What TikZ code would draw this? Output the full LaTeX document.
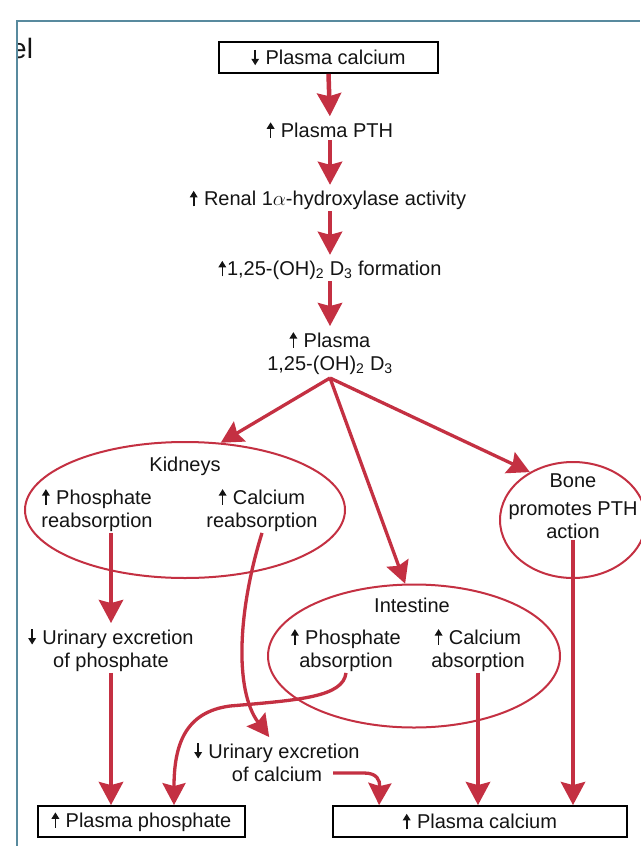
\documentclass[tikz,border=0pt]{standalone}
\usepackage{fontspec}
\setmainfont{Liberation Sans}
\usetikzlibrary{arrows.meta,calc,shapes.geometric}
\definecolor{arrred}{RGB}{196,48,66}
\definecolor{framec}{RGB}{88,138,158}
\definecolor{txt}{RGB}{20,20,20}
\newcommand\uarr{\tikz[baseline=0pt,x=1pt,y=1pt]\draw[txt,line width=1.6pt,-{Triangle[length=6.5pt,width=7.5pt]}] (0,-0.5) -- (0,15);\hspace{1pt}}
\newcommand\darr{\tikz[baseline=0pt,x=1pt,y=1pt]\draw[txt,line width=1.6pt,-{Triangle[length=6.5pt,width=7.5pt]}] (0,15) -- (0,-0.5);\hspace{1pt}}
\begin{document}
\begin{tikzpicture}[x=1pt,y=-1pt,
  lbl/.style={font=\fontsize{20}{23.5}\selectfont, text=txt, align=center, inner sep=1pt},
  boxn/.style={lbl, draw=black, line width=1.8pt, minimum height=31pt, inner sep=0pt},
  organ/.style={ellipse, draw=arrred, line width=2pt, inner sep=0pt},
  bigarr/.style={draw=arrred, line width=4.5pt, shorten >=4pt, -{Stealth[length=23pt,width=24pt,inset=3pt]}},
  diagarr/.style={draw=arrred, line width=3.3pt, -{Stealth[length=22pt,width=23pt,inset=3pt]}},
]
\useasboundingbox (0,0) rectangle (640,846);
\fill[white] (0,0) rectangle (640,846);
% frame
\draw[framec, line width=2pt] (17,846) -- (17,21) -- (640,21);
\begin{scope}
\clip (18,22) rectangle (640,846);
\node[lbl, font=\fontsize{28}{30}\selectfont, anchor=base west, inner sep=0pt] (el) at (11,58) {el};
\end{scope}

% chain
\node[boxn, minimum width=219pt] (top) at (328.5,57.5) {\darr\ Plasma calcium};
\node[lbl] (pth) at (330,130) {\uarr\ Plasma PTH};
\node[lbl] (renal) at (328,200) {\uarr\ Renal 1$\alpha$-hydroxylase activity};
\node[lbl] (form) at (330,270) {\uarr1,25-(OH)\textsubscript{2} D\textsubscript{3} formation};
\node[lbl] (pld) at (330,353) {\uarr\ Plasma\\1,25-(OH)\textsubscript{2} D\textsubscript{3}};
\coordinate (br) at (330,378);

\draw[bigarr] (top.south) -- (pth.north);
\draw[bigarr] (pth.south) -- (renal.north -| pth.south);
\draw[bigarr] (renal.south -| form.north) -- (form.north);
\draw[bigarr] (form.south) -- (pld.north);

% organs
\node[organ, minimum width=320pt, minimum height=136pt] (kid) at (185,510) {};
\node[organ, minimum width=146pt, minimum height=116pt] (bone) at (573,520) {};
\node[organ, minimum width=292pt, minimum height=143pt] (int) at (414,656) {};

\node[lbl] (kidT) at (185,466) {Kidneys};
\node[lbl] (kphos) at (97,510) {\uarr\ Phosphate\\reabsorption};
\node[lbl] (kcalc) at (262,510) {\uarr\ Calcium\\reabsorption};
\node[lbl] (boneT) at (573,481) {Bone};
\node[lbl] (bonetx) at (573,520) {promotes PTH\\action};
\node[lbl] (intT) at (412,605) {Intestine};
\node[lbl] (iphos) at (346,650) {\uarr\ Phosphate\\absorption};
\node[lbl] (icalc) at (478,650) {\uarr\ Calcium\\absorption};
\node[lbl] (uphos) at (111,650) {\darr\ Urinary excretion\\of phosphate};
\node[lbl] (ucalc) at (277,762) {\darr\ Urinary excretion\\of calcium};

\node[boxn, minimum width=207pt] (phbox) at (141.5,821.5) {\uarr\ Plasma phosphate};
\node[boxn, minimum width=294pt] (cabox) at (480,821.5) {\uarr\ Plasma calcium};

% branches
\draw[diagarr] (br) -- (kid.62);
\draw[diagarr] (br) -- (int.97);
\draw[diagarr] (br) -- (bone.132);

% verticals
\draw[bigarr] (kphos.south -| uphos.north) -- (uphos.north);
\draw[bigarr, shorten >=0pt] (uphos.south) -- (uphos.south |- phbox.north);
\draw[bigarr, shorten >=0pt] (icalc.south) -- (icalc.south |- cabox.north);
\draw[bigarr, shorten >=0pt] (bonetx.south) -- (bonetx.south |- cabox.north);

% curves
\draw[diagarr] (kcalc.south) .. controls (238,610) and (234,690) .. ($(ucalc.north west)+(76,-4)$);
\draw[diagarr] (iphos.south) .. controls (343,697) and (300,700) .. (230,706)
   .. controls (185,712) and (174,745) .. ($(phbox.north)+(32.5,0)$);
\coordinate (uc1) at (333,773);
\draw[diagarr] (uc1) -- (364,773)
   .. controls (377,773) and (380,780) .. ($(cabox.north west)+(47,0)$);
\end{tikzpicture}
\end{document}
